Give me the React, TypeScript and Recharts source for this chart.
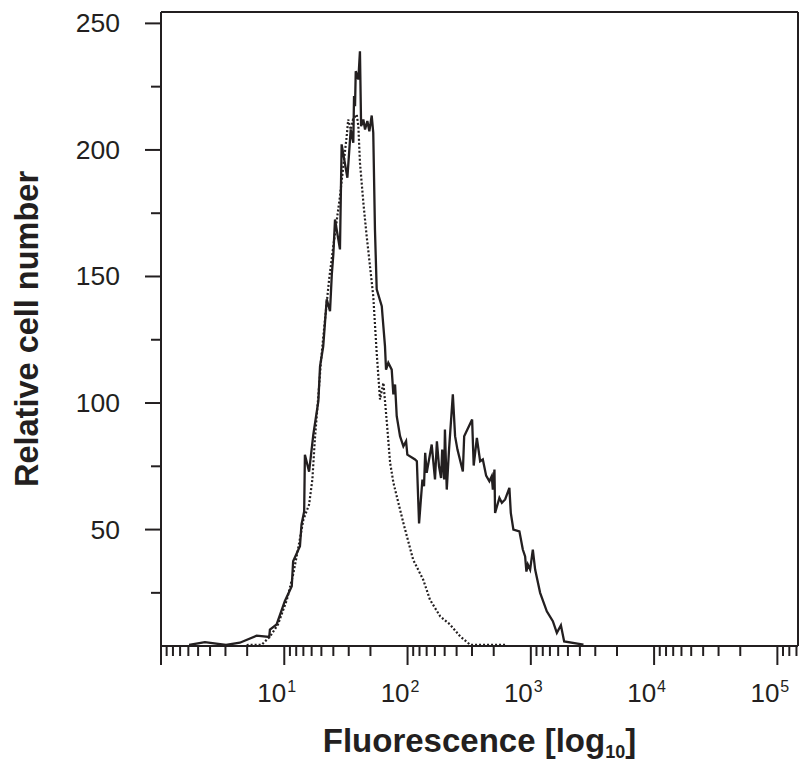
import { LineChart, Line, XAxis, YAxis, ReferenceLine, Label } from "recharts";

// Histogramme de fluorescence (échelle log)
const FONT = "'Liberation Sans', Arial, Helvetica, sans-serif";
const INK = "#231f20";

const X_MIN = 1;
const X_MAX = 147000;
const Y_MIN = 4;
const Y_MAX = 254.5;

// ticks
const decadeExponents = [0, 1, 2, 3, 4, 5];
const minorDivisors = [2, 3, 4, 5, 6, 7, 8, 9];
const yMajorTicks = [50, 100, 150, 200, 250];
const yMinorTicks = [25, 75, 125, 175, 225];

// échantillon (trait plein)
const sampleFluor = [
  1.69, 2.27, 3.37, 4.36, 5.97, 7.55, 7.65, 8.67, 10.1, 11.5, 11.8, 13.4, 13.8,
  14.5, 14.7, 15.9, 17.2, 18.9, 19.5, 20.7, 22.1, 23.5, 24.3, 25.0, 25.8, 28.3,
  29.2, 32.5, 34.6, 36.3, 36.8, 37.5, 38.0, 39.9, 41.1, 42.0, 43.8, 45.2, 47.2,
  49.0, 51.2, 52.7, 54.4, 56.2, 61.8, 62.7, 65.6, 66.9, 69.8, 74.4, 76.7, 79.2,
  81.7, 86.9, 92.5, 97.3, 99.6, 115, 119, 124, 132, 136, 139, 143, 157, 167,
  173, 180, 187, 191, 198, 201, 208, 217, 233, 243, 254, 281, 288, 334, 344,
  365, 388, 408, 434, 461, 482, 492, 507, 513, 556, 582, 619, 670, 688, 722,
  808, 861, 899, 921, 946, 987, 1038, 1084, 1190, 1348, 1509, 1626, 1754, 1864,
  2673,
];
const sampleCount = [
  4.4, 5.5, 4.4, 5.3, 8.1, 7.6, 10.5, 12.5, 21.7, 27.6, 37.5, 43.4, 52, 57.2,
  79.6, 72.9, 87.5, 100.7, 114.5, 122.4, 141, 136.3, 150.8, 158.7, 172.5, 160.7,
  202.2, 189, 208.1, 202.8, 221.3, 217.3, 231.1, 227.9, 239, 209.4, 212, 208.1,
  211.4, 207.4, 213.6, 206.8, 168.6, 144.9, 138.3, 134.3, 122.5, 113.2, 115.9,
  113.2, 103.4, 107.3, 94.8, 86.9, 82.9, 84.9, 79.6, 77.7, 77, 52.4, 69.8, 67.1,
  80.3, 72.4, 83.6, 69.8, 84.9, 75, 70.4, 81.6, 69.8, 89.5, 65.8, 81.6, 103.4,
  86.9, 81.6, 73, 86.9, 93.5, 75.3, 86.2, 77, 77.7, 71.3, 69.1, 71.1, 65.8,
  73.7, 56.6, 62.5, 60.6, 61.9, 66.5, 56.6, 50, 49.3, 42.1, 39.4, 33.4, 36.2,
  34.2, 42.1, 34.2, 25, 17.7, 13.8, 9.2, 12.2, 5.8, 4.5,
];

// contrôle (pointillés)
const controlFluor = [
  4.95, 6.56, 7.65, 8.89, 10.5, 11.8, 13.0, 14.3, 15.9, 16.9, 17.7, 18.8, 19.9,
  21.4, 23.1, 25.0, 28.3, 32.1, 33.0, 34.7, 36.1, 38.7, 39.9, 41.1, 43.8, 46.6,
  48.1, 52.7, 56.2, 59.8, 63.7, 67.8, 72.2, 76.8, 92.5, 111, 134, 152, 184, 221,
  267, 322, 618,
];
const controlCount = [
  4.4, 4.5, 7.7, 12.5, 22.3, 32.2, 42.9, 54, 59.9, 69.8, 85.6, 101.4, 117.2,
  133, 148.8, 162, 181.7, 205.5, 212, 208, 212, 214, 209.4, 195, 179.2, 165.9,
  160, 142.2, 119.8, 101.4, 108, 92.8, 76.4, 68.5, 52.6, 38.1, 30.2, 22.3, 15.7,
  12.5, 7.8, 4.5, 4.5,
];

const sampleData = sampleFluor.map((x, i) => ({ x, y: sampleCount[i] }));
const controlData = controlFluor.map((x, i) => ({ x, y: controlCount[i] }));

// graduations mineures "inversées" comme sur la figure d'origine
const xTicks: number[] = [];
decadeExponents.forEach((e) => {
  xTicks.push(Math.pow(10, e));
  minorDivisors.forEach((k) => {
    const v = Math.pow(10, e + 1) / k;
    if (v < X_MAX) xTicks.push(v);
  });
});
const yTicks = [...yMinorTicks, ...yMajorTicks].sort((a, b) => a - b);

const XTick = (props: any) => {
  const { x, y, payload } = props;
  const exp = Math.log10(payload.value);
  const e = Math.round(exp);
  const major = Math.abs(exp - e) < 1e-6;
  return (
    <g>
      <line x1={x} x2={x} y1={y} y2={y + (major ? 19 : 10)} stroke={INK} strokeWidth={2} />
      {major && e > 0 && (
        <g fontFamily={FONT} fill={INK}>
          <text x={x + 2} y={y + 56} textAnchor="end" fontSize={26}>
            10
          </text>
          <text x={x + 3} y={y + 46} textAnchor="start" fontSize={16}>
            {e}
          </text>
        </g>
      )}
    </g>
  );
};

const YTick = (props: any) => {
  const { x, y, payload } = props;
  const major = yMajorTicks.includes(payload.value);
  return (
    <g>
      <line x1={x - (major ? 16 : 10)} x2={x} y1={y} y2={y} stroke={INK} strokeWidth={2} />
      {major && (
        <text x={x - 41} y={y + 9} textAnchor="end" fontSize={26.5} fontFamily={FONT} fill={INK}>
          {payload.value}
        </text>
      )}
    </g>
  );
};

export default function App() {
  return (
    <div style={{ position: "absolute", left: 0, top: 0, width: 800, height: 760, background: "#fff" }}>
      <LineChart width={800} height={760} margin={{ top: 12, right: 2, bottom: 0, left: 0 }}>
        <XAxis
          type="number"
          dataKey="x"
          scale="log"
          domain={[X_MIN, X_MAX]}
          allowDataOverflow
          ticks={xTicks}
          interval={0}
          tick={<XTick />}
          tickLine={false}
          tickSize={0}
          tickMargin={0}
          height={114}
          axisLine={{ stroke: INK, strokeWidth: 2 }}
        >
          <Label
            content={({ viewBox }: any) => (
              <text
                x={viewBox.x + viewBox.width / 2}
                y={viewBox.y + 105.5}
                textAnchor="middle"
                fontFamily={FONT}
                fontWeight="bold"
                fontSize={33}
                fill={INK}
              >
                Fluorescence [log
                <tspan fontSize={18} dy={6}>10</tspan>
                <tspan dy={-6}>]</tspan>
              </text>
            )}
          />
        </XAxis>
        <YAxis
          type="number"
          dataKey="y"
          domain={[Y_MIN, Y_MAX]}
          allowDataOverflow
          ticks={yTicks}
          interval={0}
          tick={<YTick />}
          tickLine={false}
          tickSize={0}
          tickMargin={0}
          width={161}
          axisLine={{ stroke: INK, strokeWidth: 2 }}
        >
          <Label
            content={({ viewBox }: any) => (
              <text
                transform={`translate(${viewBox.x + 38}, ${viewBox.y + viewBox.height / 2}) rotate(-90)`}
                textAnchor="middle"
                fontFamily={FONT}
                fontWeight="bold"
                fontSize={32.5}
                fill={INK}
              >
                Relative cell number
              </text>
            )}
          />
        </YAxis>
        <ReferenceLine y={Y_MAX} stroke={INK} strokeWidth={2} />
        <ReferenceLine x={X_MAX} stroke={INK} strokeWidth={2} />
        <Line
          data={controlData}
          dataKey="y"
          type="linear"
          dot={false}
          stroke={INK}
          strokeWidth={2.2}
          strokeDasharray="2 2"
          isAnimationActive={false}
        />
        <Line
          data={sampleData}
          dataKey="y"
          type="linear"
          dot={false}
          stroke={INK}
          strokeWidth={2.3}
          isAnimationActive={false}
        />
      </LineChart>
    </div>
  );
}
